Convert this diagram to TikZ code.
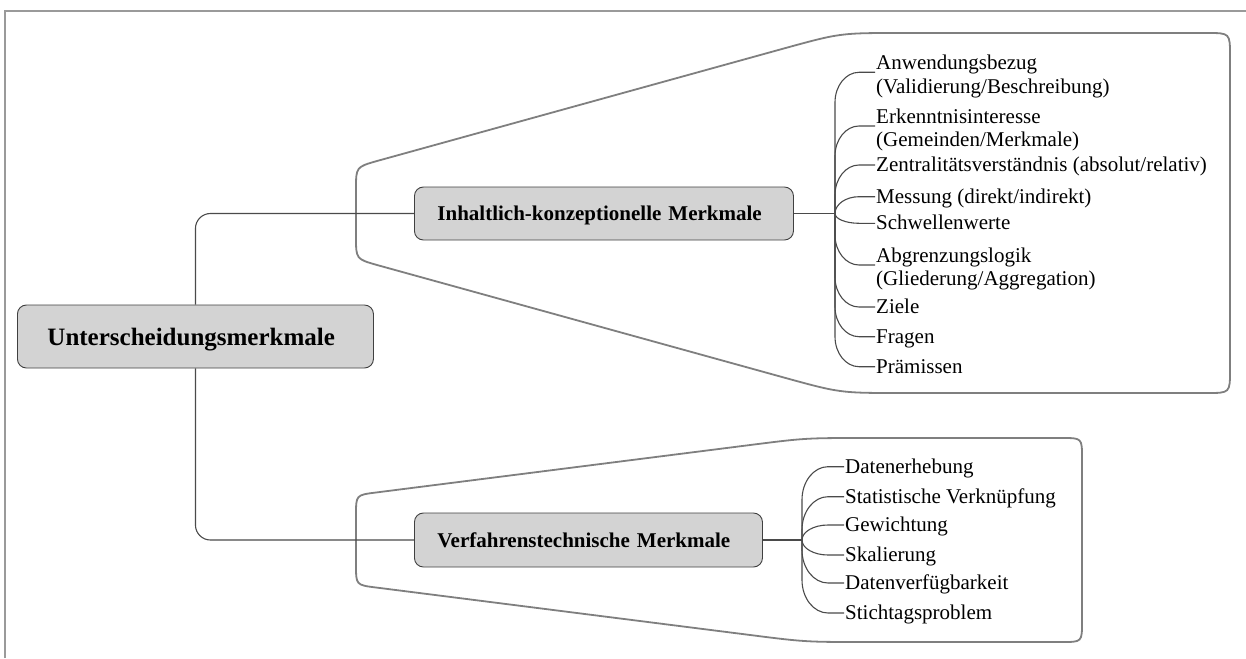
\documentclass[tikz,border=0pt]{standalone}
\usepackage{fontspec}
\setmainfont{Liberation Serif}
\usetikzlibrary{calc}

\definecolor{linegray}{HTML}{4A4A4A}
\definecolor{calloutgray}{HTML}{7F7F7F}
\definecolor{boxedge}{HTML}{404040}
\definecolor{boxfill}{HTML}{D3D3D3}
\definecolor{framegray}{HTML}{9A9A9A}

% two-line leaf text, baseline on the first line
\newcommand\twoline[2]{\begin{tabular}[t]{@{}l@{}}#1\\#2\end{tabular}}
% curved branch from a trunk point to a leaf: trunk, leaf, signed vertical radius, horizontal radius
\newcommand\twig[4]{%
  \draw[conn] (#1) -- ($(#1 |- #2.west)+(0,#3)$)
    .. controls ($(#1 |- #2.west)+(0,{0.45*(#3)})$) and ($(#1 |- #2.west)+({0.45*(#4)},0)$)
    .. ($(#1 |- #2.west)+(#4,0)$) -- (#2.west);}

\begin{document}
\begin{tikzpicture}[x=1pt,y=-1pt,
  conn/.style={draw=linegray, line width=1.1pt},
  outline/.style={draw=calloutgray, line width=1.8pt, line join=round},
  topic/.style={draw=boxedge, fill=boxfill, line width=0.9pt, rounded corners=9pt,
    font=\fontsize{21}{25}\selectfont\bfseries, text height=14.5pt, text depth=0pt,
    align=left, anchor=west, inner ysep=0pt},
  leaf/.style={anchor=west, inner xsep=1pt, inner ysep=0pt,
    font=\fontsize{21}{23.4}\selectfont, text height=15pt, text depth=2pt},
  leaftwo/.style={leaf, text height=10pt, text depth=15pt},
]
\useasboundingbox (0,0) rectangle (1246,658);

% outer frame
\draw[framegray, line width=1.5pt] (5,658) -- (5,11) -- (1246,11);

% callout round the first group
\draw[outline] (356,213) -- (356,189) .. controls (356,167) .. (377,161)
  -- (782,49) .. controls (840,33) .. (900,33)
  -- (1207,33) .. controls (1230,33) .. (1230,56)
  -- (1230,370) .. controls (1230,393) .. (1207,393)
  -- (900,393) .. controls (840,393) .. (782,377)
  -- (377,265) .. controls (356,259) .. (356,237) -- cycle;

% callout round the second group
\draw[outline] (356,540) -- (356,515) .. controls (356,495) .. (376,492.5)
  -- (745.5,445.6) .. controls (805,438) .. (865,438)
  -- (1062,438) .. controls (1082,438) .. (1082,458)
  -- (1082,622) .. controls (1082,642) .. (1062,642)
  -- (865,642) .. controls (805,642) .. (745.5,634.4)
  -- (376,587.5) .. controls (356,585) .. (356,565) -- cycle;

% main topics
\node[topic, text width=296pt, inner xsep=30pt, minimum height=63pt,
  font=\fontsize{25}{30}\selectfont\bfseries, text height=17pt] (root) at (17,336.5) {Unterscheidungsmerkmale};
\node[topic, text width=333pt, inner xsep=23pt, minimum height=53pt] (inh) at (414,213.5) {Inhaltlich-konzeptionelle Merkmale};
\node[topic, text width=302pt, inner xsep=23pt, minimum height=54pt] (ver) at (414,540) {Verfahrenstechnische Merkmale};

\draw[conn, rounded corners=15pt] (root.north) |- (inh.west);
\draw[conn, rounded corners=15pt] (root.south) |- (ver.west);

% first group of leaves
\coordinate (ti) at (835,213.5);
\draw[conn] (inh.east) -- (ti);
\node[leaftwo] (anw) at (875,72.3) {\twoline{Anwendungsbezug}{(Validierung/Beschreibung)}};
\node[leaftwo] (erk) at (875,126) {\twoline{Erkenntnisinteresse}{(Gemeinden/Merkmale)}};
\node[leaf] (zen) at (875,165) {Zentralitätsverständnis (absolut/relativ)};
\node[leaf] (mes) at (875,196.7) {Messung (direkt/indirekt)};
\node[leaf] (sch) at (875,223.3) {Schwellenwerte};
\node[leaftwo] (abg) at (875,265) {\twoline{Abgrenzungslogik}{(Gliederung/Aggregation)}};
\node[leaf] (zie) at (875,307) {Ziele};
\node[leaf] (fra) at (875,336.7) {Fragen};
\node[leaf] (pra) at (875,366.7) {Prämissen};

\twig{ti}{anw}{30}{24}
\twig{ti}{erk}{30}{24}
\twig{ti}{zen}{30}{24}
\twig{ti}{mes}{16.8}{24}
\twig{ti}{sch}{-9.8}{24}
\twig{ti}{abg}{-30}{24}
\twig{ti}{zie}{-30}{24}
\twig{ti}{fra}{-30}{24}
\twig{ti}{pra}{-30}{24}

% second group of leaves
\coordinate (tv) at (802,540);
\draw[conn] (ver.east) -- (tv);
\node[leaf] (dat) at (844,466.7) {Datenerhebung};
\node[leaf] (sta) at (844,496.7) {Statistische Verknüpfung};
\node[leaf] (gew) at (844,525) {Gewichtung};
\node[leaf] (ska) at (844,555) {Skalierung};
\node[leaf] (dav) at (844,583) {Datenverfügbarkeit};
\node[leaf] (sti) at (844,613) {Stichtagsproblem};

\twig{tv}{dat}{33}{26}
\twig{tv}{sta}{33}{26}
\twig{tv}{gew}{15}{26}
\twig{tv}{ska}{-15}{26}
\twig{tv}{dav}{-33}{26}
\twig{tv}{sti}{-33}{26}
\end{tikzpicture}
\end{document}
